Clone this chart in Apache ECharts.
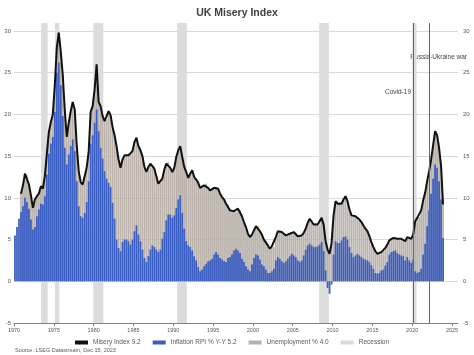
<!DOCTYPE html>
<html><head><meta charset="utf-8">
<script src="https://cdn.jsdelivr.net/npm/echarts/dist/echarts.min.js"></script>
<style>html,body{margin:0;padding:0;background:#fff}#c{width:474px;height:355px}</style>
</head><body><div id="c"></div>
<script>
// Quarterly observations, first quarter centred on 1970.125
const firstQuarter = 1970.125;
const quarterStep = 0.25;

const inflation = [
  5.5, 6.5, 7.5, 8.3,   9.0, 10.0, 9.5, 8.7,   7.4, 6.2, 6.5, 7.8,   8.6, 9.3, 9.2, 10.2,
  12.8, 15.3, 16.5, 17.3,   20.3, 25.0, 26.2, 23.5,   19.8, 16.0, 14.0, 15.2,   16.2, 17.0, 15.6, 12.0,
  9.0, 7.8, 7.6, 8.2,   9.5, 12.0, 16.5, 17.5,   19.0, 20.6, 18.0, 16.0,   14.7, 13.2, 12.3, 11.8,
  11.3, 9.4, 7.5, 5.0,   4.0, 3.6, 4.7, 5.0,   5.0, 4.8, 4.4, 5.0,   6.0, 6.7, 5.6, 4.8,
  3.8, 2.8, 2.3, 3.0,   3.8, 4.3, 4.1, 3.8,   3.5, 3.8, 5.1, 5.9,   7.3, 8.0, 8.0, 7.6,
  7.9, 8.8, 9.8, 10.3,   8.2, 6.3, 4.8, 4.3,   4.1, 3.7, 3.0, 2.5,   1.7, 1.2, 1.4, 1.8,
  2.1, 2.4, 2.5, 2.7,   3.2, 3.5, 3.2, 2.8,   2.6, 2.4, 2.3, 2.8,   2.9, 3.2, 3.7, 3.9,
  3.7, 3.4, 2.7, 2.3,   1.8, 1.4, 1.2, 2.0,   2.8, 3.2, 3.1, 2.6,   2.0, 1.8, 1.4, 1.0,
  1.0, 1.2, 1.5, 2.5,   2.9, 2.7, 2.4, 2.2,   2.4, 2.7, 3.0, 3.3,   3.1, 2.9, 2.5, 2.3,
  2.5, 3.1, 3.8, 4.3,   4.5, 4.3, 4.1, 4.1,   4.2, 4.4, 4.7, 3.6,   1.3, -0.8, -1.5, -0.4,
  3.2, 4.8, 4.6, 4.6,   4.9, 5.3, 5.4, 5.0,   4.1, 3.4, 2.9, 3.1,   3.3, 3.1, 2.9, 2.7,
  2.6, 2.5, 2.3, 1.9,   1.5, 1.0, 0.9, 1.0,   1.3, 1.4, 1.9, 2.3,   3.2, 3.5, 3.6, 3.7,
  3.4, 3.2, 3.1, 3.0,   2.5, 2.9, 2.5, 2.2,   2.6, 1.2, 1.0, 1.1,   1.5, 3.2, 4.5, 6.6,
  8.5, 10.5, 12.3, 14.0,   13.6, 12.0, 9.8, 5.2
];

const misery = [
  null, null, null, 10.5,   11.5, 12.9, 12.7, 11.6,   10.3, 8.8, 9.8, 10.2,   10.5, 11.4, 11.1, 12.6,
  15.3, 17.9, 19.1, 20.0,   23.5, 28.0, 29.8, 27.5,   24.7, 20.5, 17.3, 19.0,   20.4, 21.5, 20.6, 16.3,
  13.2, 11.9, 11.6, 12.6,   13.6, 15.5, 20.3, 21.0,   23.0, 26.0, 21.5, 21.0,   19.8, 19.2, 19.4, 20.4,
  19.9, 18.5, 17.5, 16.2,   14.6, 13.6, 14.6, 15.1,   15.2, 15.1, 15.3, 15.6,   16.7, 17.2, 16.2, 15.7,
  15.0, 13.7, 13.1, 13.7,   14.1, 13.9, 13.5, 12.6,   11.7, 11.8, 12.3, 13.4,   14.1, 14.3, 13.6, 13.1,
  13.6, 14.9, 15.7, 16.2,   14.9, 13.7, 13.1, 12.4,   12.9, 13.3, 12.5, 12.2,   11.8, 11.2, 11.2, 11.5,
  11.7, 11.2, 10.9, 11.0,   11.2, 11.3, 11.1, 10.5,   10.1, 9.8, 9.3, 9.2,   8.5, 8.5, 8.4, 8.3,
  8.7, 8.5, 7.8, 7.1,   6.5, 5.7, 5.3, 5.6,   6.1, 6.6, 6.6, 6.0,   5.6, 5.0, 4.9, 4.3,
  3.9, 4.2, 4.1, 5.3,   6.0, 5.9, 5.9, 5.7,   5.5, 5.5, 5.7, 5.9,   5.9, 5.7, 5.4, 5.3,
  5.5, 5.8, 6.3, 7.0,   7.5, 7.3, 6.8, 7.0,   6.8, 6.7, 7.6, 6.8,   4.8, 3.8, 3.3, 4.6,
  7.9, 9.6, 9.3, 9.5,   9.3, 9.8, 10.2, 9.6,   8.6, 7.9, 7.7, 7.8,   7.7, 7.4, 7.1, 6.7,
  6.3, 6.0, 5.4, 4.7,   4.1, 3.6, 3.3, 3.3,   3.5, 3.6, 4.0, 4.4,   4.9, 5.1, 5.2, 5.3,
  5.1, 5.0, 5.1, 5.1,   4.8, 5.3, 5.2, 5.1,   5.6, 7.2, 7.6, 7.7,   8.5, 9.7, 10.6, 12.0,
  13.2, 14.6, 16.3, 18.0,   17.5, 16.0, 13.8, 9.2
];

const recessions = [
  [1973.4, 1974.23], [1975.15, 1975.69], [1979.96, 1981.22],
  [1990.48, 1991.7], [2008.32, 2009.53], [2020.0, 2020.55]
];
const eventNames = ['Covid-19', 'Russia-Ukraine war'];
const eventYears = [2020.1, 2022.15];
const yearTicks = [1970, 1975, 1980, 1985, 1990, 1995, 2000, 2005, 2010, 2015, 2020, 2025];
const seriesNames = ['Misery Index 9.2', 'Inflation RPI % Y-Y 5.2', 'Unemployment % 4.0', 'Recession'];

const FONT = "'Liberation Sans', Arial, sans-serif";
const xs = inflation.map((_, i) => firstQuarter + i * quarterStep);
const infData = inflation.map((v, i) => [xs[i], v]);
const misData = misery.map((v, i) => [xs[i], v]);

const chart = echarts.init(document.getElementById('c'), null, {renderer: 'canvas'});
const xMin = 1970, xMax = 2025.75;

chart.setOption({
  animation: false,
  backgroundColor: '#fff',
  textStyle: {fontFamily: FONT},
  title: {
    text: 'UK Misery Index', left: 'center', top: 3,
    textStyle: {fontSize: 10.5, fontWeight: 'bold', color: '#404040', fontFamily: FONT}
  },
  legend: {
    left: 70, top: 334, itemWidth: 13, itemHeight: 4, itemGap: 12,
    textStyle: {fontSize: 6.5, color: '#595959', fontFamily: FONT},
    data: [
      {name: seriesNames[0], icon: 'rect'},
      {name: seriesNames[1], icon: 'rect'},
      {name: seriesNames[2], icon: 'rect'},
      {name: seriesNames[3], icon: 'rect'}
    ]
  },
  grid: [
    {left: 14, right: 16, top: 31, bottom: 32},
    {left: 14, right: 16, top: 23, bottom: 32}
  ],
  xAxis: [
    {
      type: 'value', gridIndex: 0, min: xMin, max: xMax, interval: 5,
      axisLine: {show: true, onZero: false, lineStyle: {color: '#808080', width: 1}},
      axisTick: {show: true, length: 3, lineStyle: {color: '#808080'}, customValues: yearTicks},
      axisLabel: {fontSize: 5.5, color: '#595959', margin: 4, customValues: yearTicks,
        formatter: v => (Math.abs(v % 5) < 1e-6 ? String(v) : '')},
      splitLine: {show: false}
    },
    {type: 'value', gridIndex: 1, min: xMin, max: xMax, show: false}
  ],
  yAxis: [
    {
      type: 'value', gridIndex: 0, position: 'left', min: -5, max: 30, interval: 5,
      axisLine: {show: false}, axisTick: {show: false},
      axisLabel: {fontSize: 6, color: '#595959', margin: 3},
      splitLine: {show: true, lineStyle: {color: '#d9d9d9', width: 1}}
    },
    {
      type: 'value', gridIndex: 0, position: 'right', min: -5, max: 30, interval: 5,
      axisLine: {show: false}, axisTick: {show: false},
      axisLabel: {fontSize: 6, color: '#595959', margin: 5},
      splitLine: {show: false}
    },
    {type: 'value', gridIndex: 1, min: 0, max: 1, show: false}
  ],
  series: [
    {
      name: seriesNames[3], type: 'bar', xAxisIndex: 1, yAxisIndex: 2, data: [], z: 1,
      itemStyle: {color: '#dcdcdc'},
      markArea: {
        silent: true, itemStyle: {color: '#dcdcdc'},
        data: recessions.map(r => [{xAxis: r[0]}, {xAxis: r[1]}])
      }
    },
    {
      name: seriesNames[2], type: 'bar', xAxisIndex: 0, yAxisIndex: 0, z: 2,
      barWidth: 1.75, barGap: '-100%',
      itemStyle: {color: '#b9b1aa'},
      data: misData
    },
    {
      name: seriesNames[1], type: 'bar', xAxisIndex: 0, yAxisIndex: 0, z: 3,
      barWidth: 1.75, barGap: '-100%',
      itemStyle: {color: '#3b5ec2'},
      data: infData
    },
    {
      name: seriesNames[0], type: 'line', xAxisIndex: 0, yAxisIndex: 0, z: 4,
      showSymbol: false, connectNulls: false,
      lineStyle: {color: '#111', width: 2}, itemStyle: {color: '#111'},
      data: misData
    },
    {
      name: 'events', type: 'line', xAxisIndex: 1, yAxisIndex: 2, data: [], z: 5,
      markLine: {
        silent: true, symbol: 'none', label: {show: false},
        lineStyle: {color: '#666', width: 1, type: 'solid'},
        data: eventYears.map(y => ({xAxis: y}))
      }
    }
  ]
});

const covidPt = chart.convertToPixel({xAxisIndex: 0, yAxisIndex: 0}, [eventYears[0], 22.7]);
const warPt = chart.convertToPixel({xAxisIndex: 0, yAxisIndex: 0}, [eventYears[1], 26.9]);
chart.setOption({
  graphic: [
    {type: 'text', left: 15, top: 347,
      style: {text: 'Source: LSEG Datastream, Dec 15, 2023', fontSize: 5.5, fill: '#595959', fontFamily: FONT}},
    {type: 'text', x: covidPt[0] - 2, y: covidPt[1],
      style: {text: eventNames[0], fontSize: 6.5, fill: '#404040', fontFamily: FONT, align: 'right', verticalAlign: 'middle'}},
    {type: 'text', x: warPt[0] - 19, y: warPt[1],
      style: {text: eventNames[1], fontSize: 6.5, fill: '#404040', fontFamily: FONT, align: 'left', verticalAlign: 'middle'}}
  ]
});
</script>
</body></html>
